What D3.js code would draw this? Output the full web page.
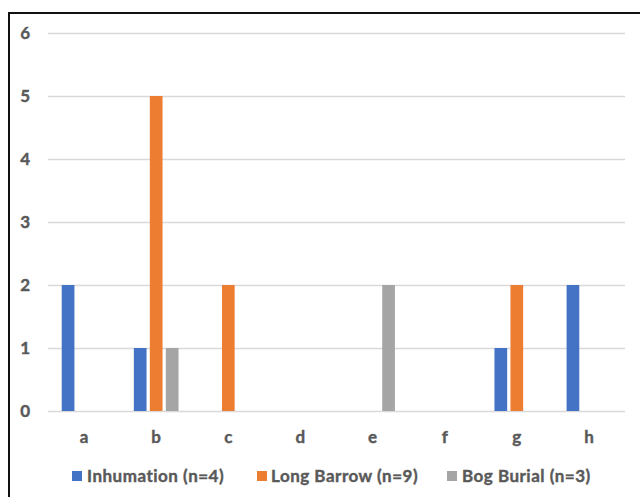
<!DOCTYPE html>
<html>
<head>
<meta charset="utf-8">
<script src="https://cdn.jsdelivr.net/npm/d3@7"></script>
<style>
  html, body { margin: 0; padding: 0; background: #fff; }
  svg { display: block; }
  text { font-family: Lato, "Open Sans", sans-serif; font-weight: 700; fill: #595959;
         stroke: #595959; stroke-width: 0.4px; }
</style>
</head>
<body>
<svg id="chart" width="640" height="497"></svg>
<script>
// Grave counts per category, one array per burial type
const categories = ["a", "b", "c", "d", "e", "f", "g", "h"];
const seriesNames = ["Inhumation (n=4)", "Long Barrow (n=9)", "Bog Burial (n=3)"];
const inhumation = [2, 1, 0, 0, 0, 0, 1, 2];
const longBarrow = [0, 5, 2, 0, 0, 0, 2, 0];
const bogBurial  = [0, 1, 0, 0, 2, 0, 0, 0];
const seriesColors = ["#4472C4", "#ED7D31", "#A5A5A5"];
const yTicks = [0, 1, 2, 3, 4, 5, 6];

const series = [inhumation, longBarrow, bogBurial].map((vals, i) => ({
  name: seriesNames[i], color: seriesColors[i], values: vals
}));

const svg = d3.select("#chart");

// outer frame (runs off the right and bottom edges)
svg.append("rect")
  .attr("x", 9).attr("y", 13)
  .attr("width", 700).attr("height", 600)
  .attr("fill", "none").attr("stroke", "#111").attr("stroke-width", 2);

const plot = { left: 48, right: 625, top: 33, bottom: 411 };

const x = d3.scaleBand().domain(categories).range([plot.left, plot.right]).padding(0);
const y = d3.scaleLinear().domain([0, 6]).range([plot.bottom, plot.top]);

const fontSize = 17;

// horizontal gridlines + y labels
const yAxis = d3.axisLeft(y).tickValues(yTicks).tickFormat(d3.format("d"))
  .tickSize(-(plot.right - plot.left)).tickPadding(18);
const gy = svg.append("g").attr("transform", `translate(${plot.left},0)`).call(yAxis);
gy.select(".domain").remove();
gy.selectAll(".tick line").attr("stroke", "#d9d9d9").attr("stroke-width", 1.3);
gy.selectAll(".tick text").attr("font-size", fontSize).attr("fill", "#595959")
  .attr("font-family", "Lato, sans-serif").attr("font-weight", 700);

// x labels
const xAxis = d3.axisBottom(x).tickSize(0).tickPadding(20);
const gx = svg.append("g").attr("transform", `translate(0,${plot.bottom})`).call(xAxis);
gx.select(".domain").remove();
gx.selectAll(".tick text").attr("font-size", fontSize).attr("fill", "#595959")
  .attr("font-family", "Lato, sans-serif").attr("font-weight", 700);

// grouped bars: three slots per category, 16px apart
const barW = 12.7;
const slot = 16;
const groups = svg.append("g");
series.forEach((s, si) => {
  groups.selectAll(null)
    .data(s.values.map((v, ci) => ({ v, c: categories[ci] })).filter(d => d.v > 0))
    .join("rect")
    .attr("x", d => x(d.c) + x.bandwidth() / 2 + (si - 1) * slot - barW / 2)
    .attr("y", d => y(d.v))
    .attr("width", barW)
    .attr("height", d => y(0) - y(d.v))
    .attr("fill", s.color);
});

// legend
const legendItems = [
  { x: 72, tx: 87 },
  { x: 257, tx: 271 },
  { x: 447, tx: 462 }
];
const legendY = 476;
const lg = svg.append("g");
series.forEach((s, i) => {
  lg.append("rect").attr("x", legendItems[i].x).attr("y", legendY - 5)
    .attr("width", 10).attr("height", 10).attr("fill", s.color);
  lg.append("text").attr("x", legendItems[i].tx).attr("y", legendY)
    .attr("dy", "0.35em").attr("font-size", fontSize)
    .attr("letter-spacing", 0.5).text(s.name);
});
</script>
</body>
</html>
